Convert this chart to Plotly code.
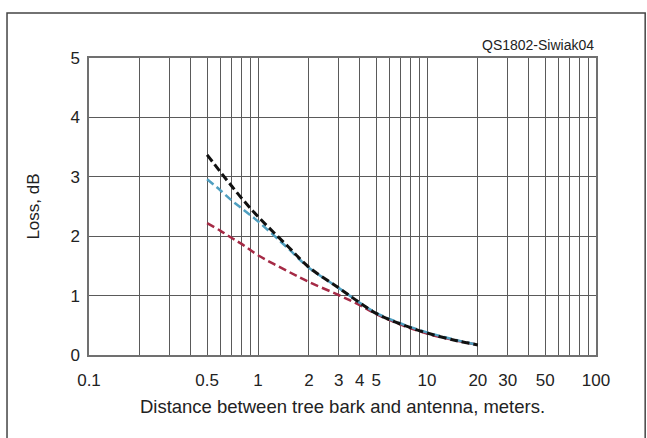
import plotly.graph_objects as go

# Distance from tree bark (m) and the resulting loss (dB) for three cases
distance_m = [0.5, 0.6, 0.7, 0.8, 1, 1.5, 2, 3, 4, 5, 7, 10, 15, 20]
loss_black = [3.37, 3.08, 2.84, 2.64, 2.33, 1.83, 1.48, 1.13, 0.88, 0.70, 0.52, 0.37, 0.24, 0.17]
loss_blue = [2.96, 2.77, 2.60, 2.47, 2.25, 1.80, 1.47, 1.13, 0.88, 0.71, 0.53, 0.38, 0.25, 0.17]
loss_red = [2.22, 2.09, 1.97, 1.87, 1.68, 1.41, 1.23, 1.01, 0.84, 0.69, 0.51, 0.36, 0.24, 0.17]

# Log-axis grid positions and their labels (blank = grid line only)
x_grid = [0.1, 0.2, 0.3, 0.4, 0.5, 0.6, 0.7, 0.8, 0.9,
          1, 2, 3, 4, 5, 6, 7, 8, 9,
          10, 20, 30, 40, 50, 60, 70, 80, 90, 100]
x_labels = ["0.1", "", "", "", "0.5", "", "", "", "",
            "1", "2", "3", "4", "5", "", "", "", "",
            "10", "20", "30", "", "50", "", "", "", "", "100"]
y_ticks = [0, 1, 2, 3, 4, 5]

FONT = "Liberation Sans, Arial, sans-serif"
TXT = "#222222"

fig = go.Figure()
for ys, color, width in [(loss_red, "#a52a45", 2.5),
                         (loss_blue, "#4f9fc0", 2.5),
                         (loss_black, "#111111", 3)]:
    fig.add_trace(go.Scatter(
        x=distance_m, y=ys, mode="lines",
        line=dict(color=color, width=width, dash="8px,4px", shape="spline"),
        showlegend=False, hoverinfo="skip"))

fig.update_layout(
    width=647, height=438,
    margin=dict(l=89, r=51, t=58, b=83),
    paper_bgcolor="white", plot_bgcolor="white",
    font=dict(family=FONT, color=TXT),
    showlegend=False,
)

fig.update_xaxes(
    type="log", range=[-1, 2],
    tickvals=x_grid, ticktext=x_labels,
    showgrid=True, gridcolor="#5a5a5a", gridwidth=1,
    showline=True, linecolor="#707070", linewidth=1.5, mirror=True,
    ticks="outside", ticklen=9, tickcolor="rgba(0,0,0,0)",
    tickfont=dict(size=17, family=FONT, color=TXT),
    title=dict(text="Distance between tree bark and antenna, meters.",
               font=dict(size=18.5, family=FONT, color=TXT), standoff=11),
    zeroline=False,
)
fig.update_yaxes(
    range=[0, 5], tickvals=y_ticks,
    showgrid=True, gridcolor="#5a5a5a", gridwidth=1,
    showline=True, linecolor="#707070", linewidth=1.5, mirror=True,
    ticks="outside", ticklen=4, tickcolor="rgba(0,0,0,0)",
    tickfont=dict(size=17, family=FONT, color=TXT),
    title=dict(text="Loss, dB", font=dict(size=17, family=FONT, color=TXT),
               standoff=26),
    zeroline=False,
)

# Figure ID in the upper right corner
fig.add_annotation(
    text="QS1802-Siwiak04", xref="paper", yref="paper",
    x=1.0, y=1.0, xanchor="right", yanchor="bottom", yshift=3,
    showarrow=False, font=dict(size=14, family=FONT, color=TXT))

# Outer frame around the whole figure
fig.add_shape(type="rect", xref="paper", yref="paper",
              x0=-0.1617, x1=1.097, y0=-0.29, y1=1.1515,
              line=dict(color="#444444", width=1.5), layer="below")

fig.write_html("out.html")
